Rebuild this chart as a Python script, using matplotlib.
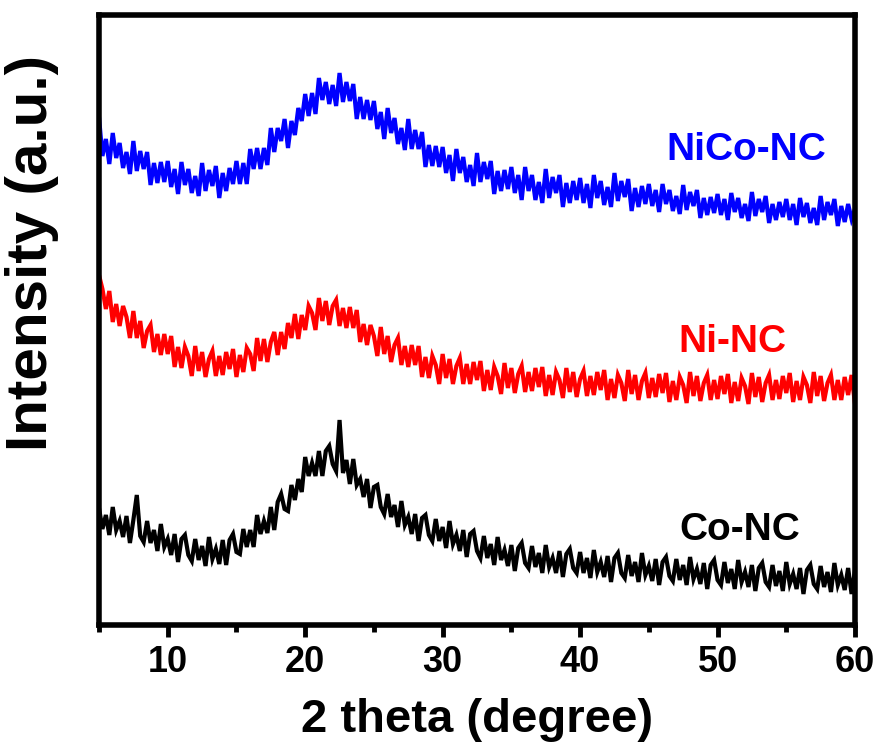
import numpy as np
import matplotlib
matplotlib.use('Agg')
from matplotlib import pyplot as plt
from matplotlib.ticker import MultipleLocator

plt.rcParams['font.family'] = ['Liberation Sans', 'DejaVu Sans']
plt.rcParams['font.weight'] = 'bold'

# 2 theta in 0.25 degree steps, 5 -> 60
TWO_THETA = np.arange(221) * 0.25 + 5

# intensities (a.u.), curves already offset as in the figure
NICO_NC = [
    508, 469, 486, 461, 492, 467, 482, 457, 473, 451, 484, 454, 474, 456, 473, 440,
    462, 442, 463, 443, 464, 438, 456, 431, 463, 440, 456, 432, 449, 429, 462, 434,
    455, 439, 459, 427, 452, 434, 457, 441, 464, 441, 462, 441, 476, 456, 477, 456,
    477, 460, 497, 473, 497, 484, 506, 477, 504, 490, 517, 504, 531, 509, 532, 511,
    547, 525, 543, 521, 540, 519, 552, 523, 543, 524, 541, 506, 528, 506, 525, 505,
    524, 496, 513, 486, 517, 492, 507, 481, 497, 475, 506, 476, 495, 476, 493, 458,
    480, 459, 479, 458, 478, 452, 470, 444, 476, 452, 468, 443, 460, 439, 472, 443,
    463, 446, 464, 431, 454, 434, 455, 436, 458, 432, 450, 425, 458, 434, 450, 425,
    443, 422, 456, 427, 448, 432, 450, 418, 442, 422, 444, 425, 447, 422, 441, 417,
    450, 427, 444, 420, 438, 418, 452, 424, 444, 428, 446, 414, 437, 418, 439, 421,
    441, 419, 435, 413, 441, 421, 435, 414, 429, 411, 440, 415, 433, 419, 435, 407,
    427, 410, 428, 412, 431, 410, 426, 405, 432, 413, 427, 407, 421, 404, 433, 409,
    426, 413, 429, 402, 421, 405, 423, 408, 426, 405, 421, 400, 427, 408, 422, 402,
    417, 400, 429, 405, 423, 410, 426, 399, 419, 403, 421, 406, 416]

NI_NC = [
    350, 336, 316, 334, 303, 321, 299, 319, 308, 287, 314, 287, 304, 277, 294, 300,
    273, 291, 270, 291, 271, 289, 258, 278, 257, 278, 269, 249, 279, 254, 273, 248,
    266, 274, 249, 269, 250, 273, 256, 276, 248, 270, 253, 277, 271, 254, 287, 264,
    286, 263, 283, 293, 270, 293, 276, 302, 287, 311, 286, 310, 295, 319, 312, 295,
    327, 304, 324, 300, 319, 325, 299, 317, 297, 318, 297, 315, 283, 301, 280, 300,
    289, 269, 298, 271, 289, 263, 280, 287, 260, 279, 258, 280, 260, 279, 248, 268,
    247, 269, 260, 241, 271, 247, 266, 241, 259, 267, 241, 261, 241, 263, 245, 264,
    234, 255, 235, 258, 249, 231, 262, 237, 257, 232, 251, 259, 233, 253, 234, 257,
    238, 258, 229, 250, 230, 253, 245, 227, 257, 233, 253, 228, 246, 254, 229, 249,
    230, 253, 235, 255, 225, 246, 227, 250, 242, 224, 255, 231, 250, 225, 244, 252,
    227, 247, 228, 251, 232, 252, 223, 244, 225, 248, 240, 222, 253, 229, 249, 224,
    242, 250, 225, 245, 226, 249, 231, 251, 222, 243, 224, 247, 239, 221, 252, 228,
    248, 223, 242, 250, 225, 245, 226, 249, 232, 252, 223, 244, 225, 248, 240, 222,
    253, 229, 249, 224, 242, 250, 225, 245, 225, 248, 230, 250, 221]

CO_NC = [
    117, 96, 110, 90, 118, 95, 104, 88, 109, 82, 105, 130, 89, 83, 104, 82,
    95, 74, 101, 78, 86, 70, 91, 63, 86, 90, 70, 64, 86, 65, 79, 59,
    88, 66, 76, 61, 85, 60, 85, 91, 73, 71, 96, 78, 95, 78, 110, 91,
    104, 92, 118, 95, 123, 131, 116, 114, 140, 125, 146, 133, 168, 149, 162, 149,
    174, 149, 174, 179, 161, 154, 205, 152, 165, 141, 166, 140, 146, 128, 146, 117,
    138, 140, 118, 111, 131, 108, 120, 98, 124, 100, 108, 91, 111, 84, 107, 110,
    90, 84, 106, 84, 98, 77, 104, 81, 90, 74, 95, 68, 91, 94, 74, 67,
    89, 67, 81, 60, 88, 65, 75, 59, 80, 54, 77, 82, 62, 57, 79, 58,
    72, 52, 80, 58, 67, 52, 74, 48, 71, 76, 57, 52, 73, 52, 67, 47,
    75, 53, 63, 48, 69, 43, 67, 72, 52, 47, 70, 49, 63, 43, 72, 50,
    59, 44, 66, 40, 63, 68, 49, 44, 66, 45, 60, 40, 68, 46, 56, 41,
    62, 36, 60, 65, 45, 40, 63, 42, 56, 36, 65, 43, 53, 38, 60, 34,
    57, 62, 43, 38, 60, 39, 54, 34, 63, 41, 51, 36, 57, 31, 55, 60,
    41, 36, 59, 38, 53, 33, 62, 40, 50, 35, 57, 31, 55]

NAMES = ['NiCo-NC', 'Ni-NC', 'Co-NC']
COLORS = ['#0000ff', '#ff0000', '#000000']

fig = plt.figure(figsize=(8.8, 7.47), dpi=100)
ax = fig.add_axes([99/880, 1 - 625/747, 756/880, 610/747])

for ys, c in zip([NICO_NC, NI_NC, CO_NC], COLORS):
    ax.plot(TWO_THETA, ys, color=c, lw=3.0, solid_joinstyle='miter')

# sample names next to the curves
ax.text(52.1, 465, NAMES[0], color=COLORS[0], fontsize=28, ha='center', va='baseline')
ax.text(51.05, 273, NAMES[1], color=COLORS[1], fontsize=28, ha='center', va='baseline')
ax.text(51.6, 85, NAMES[2], color=COLORS[2], fontsize=28, ha='center', va='baseline')

ax.set_xlim(5, 60)
ax.set_ylim(0, 610)
ax.xaxis.set_major_locator(MultipleLocator(10))
ax.xaxis.set_minor_locator(MultipleLocator(5))
ax.tick_params(axis='x', which='major', direction='out', length=8.5, width=3.5,
               labelsize=26, pad=6)
ax.tick_params(axis='x', which='minor', direction='out', length=5, width=3.5)
ax.set_yticks([])
for sp in ax.spines.values():
    sp.set_linewidth(4)

ax.set_xlabel('2 theta (degree)', fontsize=34, fontweight='bold', labelpad=13)
fig.text(32/880, 1 - 253/747, 'Intensity (a.u.)', rotation=90, ha='center',
         va='center', fontsize=42, fontweight='bold')

fig.savefig('out.png', dpi=100)
